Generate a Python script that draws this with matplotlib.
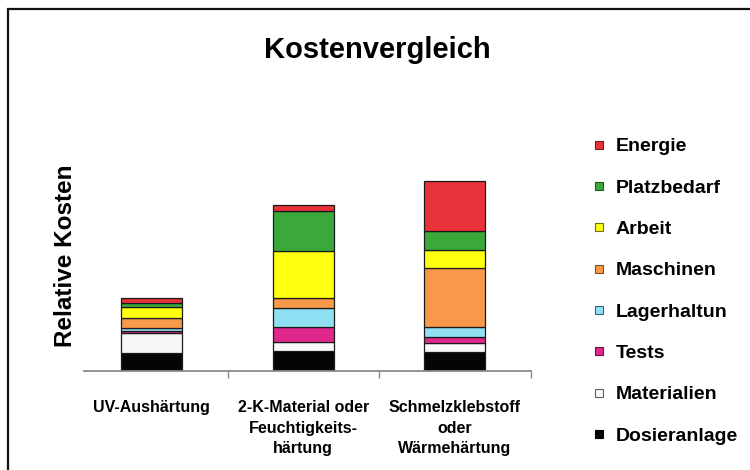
import matplotlib
matplotlib.use("Agg")
import matplotlib.pyplot as plt
from matplotlib.lines import Line2D
from matplotlib.patches import Rectangle

plt.rcParams["font.family"] = ["Liberation Sans", "DejaVu Sans"]
plt.rcParams["font.weight"] = "bold"

categories = [
    "UV-Aushärtung",
    "2-K-Material oder\nFeuchtigkeits-\nhärtung",
    "Schmelzklebstoff\noder\nWärmehärtung",
]

# stack order bottom -> top
components = ["Dosieranlage", "Materialien", "Tests", "Lagerhaltun",
              "Maschinen", "Arbeit", "Platzbedarf", "Energie"]
colors = ["#050505", "#f8f8f8", "#e0288c", "#8ee0f2",
          "#f8984a", "#ffff10", "#3aa83a", "#e8323a"]
edge_colors = ["#000000", "#606060", "#701040", "#306878",
               "#805020", "#707000", "#1d5a1d", "#7a1a1d"]

dosieranlage = [18.5, 20.0, 19.5]
materialien = [19.5, 9.0, 9.0]
tests = [2.5, 15.0, 6.0]
lagerhaltun = [3.0, 19.5, 9.5]
maschinen = [9.5, 9.5, 59.0]
arbeit = [11.0, 47.5, 18.5]
platzbedarf = [4.0, 40.0, 18.5]
energie = [5.5, 6.0, 50.0]

series = [dosieranlage, materialien, tests, lagerhaltun,
          maschinen, arbeit, platzbedarf, energie]

fig = plt.figure(figsize=(7.5, 4.7), dpi=100)
ax = fig.add_axes([76 / 750, 99 / 470, 454.5 / 750, 200 / 470])

x = list(range(len(categories)))
bottom = [0.0] * len(categories)
for vals, col in zip(series, colors):
    ax.bar(x, vals, 0.4, bottom=bottom, color=col, edgecolor="#1a1a1a",
           linewidth=0.9)
    bottom = [b + v for b, v in zip(bottom, vals)]

ax.set_xlim(-0.5, 2.5)
ax.set_ylim(0, 200)
for s in ["top", "right", "left"]:
    ax.spines[s].set_visible(False)
ax.spines["bottom"].set_color("#8a8a8a")
ax.spines["bottom"].set_linewidth(1.3)
ax.spines["bottom"].set_bounds(-0.447, 2.5)
ax.set_yticks([])

ax.set_xticks(x)
ax.set_xticklabels(categories, fontsize=11.5, fontweight="bold",
                   linespacing=1.45)
ax.tick_params(axis="x", which="major", length=0, pad=21)
ax.set_xticks([0.5, 1.5, 2.5], minor=True)
ax.tick_params(axis="x", which="minor", length=5, width=1,
               color="#8a8a8a", direction="out")

fig.text(66 / 750, 1 - 256 / 470, "Relative Kosten", rotation=90,
         ha="center", va="center", fontsize=17.5, fontweight="bold")
fig.text(377 / 750, 1 - 58 / 470, "Kostenvergleich", ha="center",
         va="baseline", fontsize=21, fontweight="bold")

handles = []
for comp, col, ec in zip(components, colors, edge_colors):
    handles.append(Line2D([], [], linestyle="none", marker="s",
                          markersize=6, markerfacecolor=col,
                          markeredgecolor=ec, markeredgewidth=0.8,
                          label=comp))
handles = handles[::-1]
fig.legend(handles=handles, loc="upper left",
           bbox_to_anchor=(581 / 750, 1 - 128 / 470), frameon=False,
           labelspacing=1.22, handlelength=0.8,
           handletextpad=0.5, borderpad=0, prop={"weight": "bold", "size": 14})

fig.add_artist(Rectangle((8 / 750, -0.1), 1.2, (470 - 9) / 470 + 0.1,
                         transform=fig.transFigure, fill=False,
                         edgecolor="#111111", linewidth=1.6))

fig.savefig("out.png", dpi=100, facecolor="white")
